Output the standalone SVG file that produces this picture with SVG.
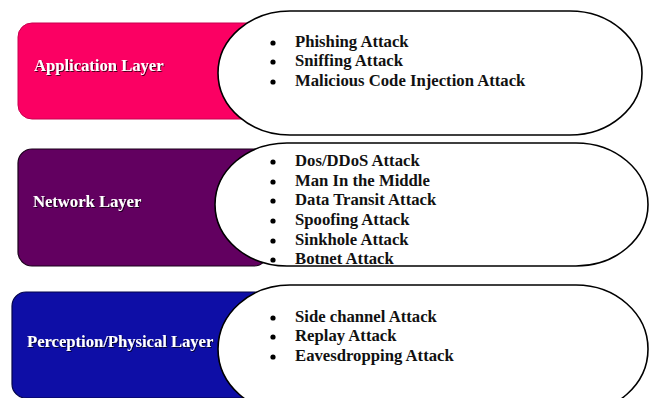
<svg xmlns="http://www.w3.org/2000/svg" width="655" height="398" viewBox="0 0 655 398">
  <style>
    .layer-label { font-family: "Liberation Serif", "Times New Roman", serif; font-weight: bold; font-size: 16.6px; fill: #ffffff; filter: url(#txtShadow); }
    .item { font-family: "Liberation Serif", "Times New Roman", serif; font-weight: bold; font-size: 16.7px; fill: #111111; }
    .pill { fill: #ffffff; stroke: #000000; stroke-width: 1.6; }
    .dot { fill: #000000; }
  </style>
  <defs>
    <filter id="txtShadow" x="-10%" y="-30%" width="120%" height="160%">
      <feDropShadow dx="1" dy="1" stdDeviation="0.6" flood-color="#000000" flood-opacity="0.7"/>
    </filter>
  </defs>

  <!-- Application layer -->
  <g id="application-layer">
    <rect x="18" y="23" width="250" height="96" rx="14" ry="14" fill="#FB0063" stroke="#C8004E" stroke-width="1"/>
    <text class="layer-label" x="34" y="71">Application Layer</text>
  </g>
  <g id="application-attacks">
    <rect class="pill" x="218" y="11" width="424" height="124" rx="72" ry="62"/>
    <circle class="dot" cx="273" cy="43" r="2.6"/>
    <circle class="dot" cx="273" cy="62" r="2.6"/>
    <circle class="dot" cx="273" cy="82" r="2.6"/>
    <text class="item" x="295" y="47">Phishing Attack</text>
    <text class="item" x="295" y="66">Sniffing Attack</text>
    <text class="item" x="295" y="86">Malicious Code Injection Attack</text>
  </g>

  <!-- Network layer -->
  <g id="network-layer">
    <rect x="18" y="149" width="250" height="117" rx="14" ry="14" fill="#620060" stroke="#1a001a" stroke-width="1.2"/>
    <text class="layer-label" x="33" y="207">Network Layer</text>
  </g>
  <g id="network-attacks">
    <rect class="pill" x="215" y="143" width="433" height="123" rx="72" ry="61.5"/>
    <circle class="dot" cx="273" cy="162" r="2.6"/>
    <circle class="dot" cx="273" cy="182" r="2.6"/>
    <circle class="dot" cx="273" cy="201" r="2.6"/>
    <circle class="dot" cx="273" cy="221" r="2.6"/>
    <circle class="dot" cx="273" cy="241" r="2.6"/>
    <circle class="dot" cx="273" cy="260" r="2.6"/>
    <text class="item" x="295" y="166">Dos/DDoS Attack</text>
    <text class="item" x="295" y="186">Man In the Middle</text>
    <text class="item" x="295" y="205">Data Transit Attack</text>
    <text class="item" x="295" y="225">Spoofing Attack</text>
    <text class="item" x="295" y="245">Sinkhole Attack</text>
    <text class="item" x="295" y="264">Botnet Attack</text>
  </g>

  <!-- Perception / physical layer -->
  <g id="perception-layer">
    <rect x="12" y="292" width="256" height="106" rx="14" ry="14" fill="#0E0EA6" stroke="#05054a" stroke-width="1.2"/>
    <text class="layer-label" x="27" y="347">Perception/Physical Layer</text>
  </g>
  <g id="perception-attacks">
    <rect class="pill" x="218" y="285" width="430" height="128" rx="72" ry="64"/>
    <circle class="dot" cx="273" cy="318" r="2.6"/>
    <circle class="dot" cx="273" cy="337" r="2.6"/>
    <circle class="dot" cx="273" cy="357" r="2.6"/>
    <text class="item" x="295" y="322">Side channel Attack</text>
    <text class="item" x="295" y="341">Replay Attack</text>
    <text class="item" x="295" y="361">Eavesdropping Attack</text>
  </g>

  <g id="connectors"></g>
</svg>
